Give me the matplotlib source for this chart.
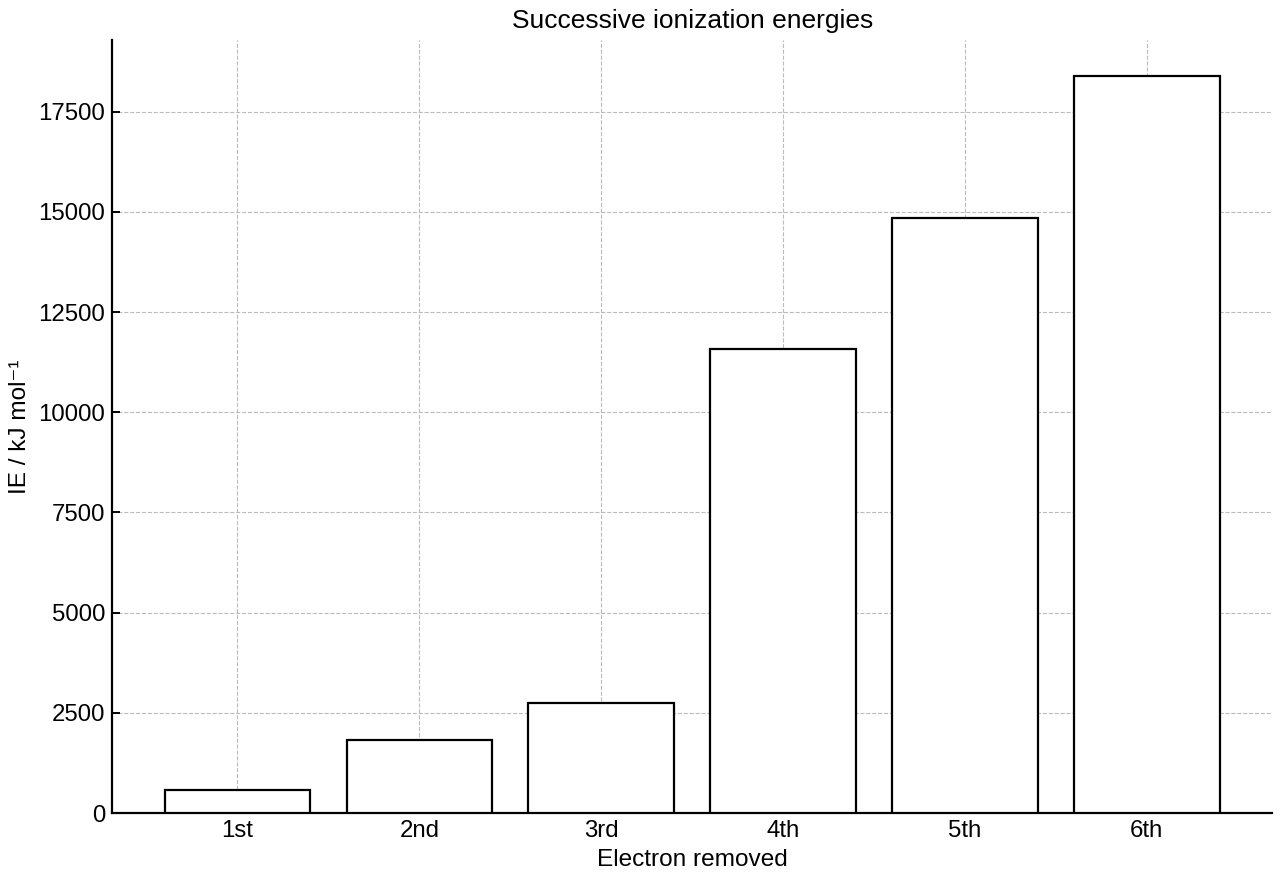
import matplotlib
matplotlib.use("Agg")
import matplotlib.pyplot as plt

plt.rcParams['font.family'] = ['Liberation Sans', 'DejaVu Sans']

categories = ["1st", "2nd", "3rd", "4th", "5th", "6th"]
energies = [578, 1817, 2745, 11577, 14842, 18379]
yticks = [0, 2500, 5000, 7500, 10000, 12500, 15000, 17500]

fig, ax = plt.subplots(figsize=(12.8, 8.8), dpi=100)
fig.subplots_adjust(left=0.0875, right=0.994, top=0.955, bottom=0.076)

x = list(range(len(categories)))
ax.bar(x, energies, width=0.8, facecolor="white", edgecolor="black", linewidth=1.6, zorder=3)
ax.set_xticks(x)
ax.set_xticklabels(categories)
ax.set_yticks(yticks)

ax.grid(True, linestyle="--", color="#bbbbbb", linewidth=0.8, zorder=0)
ax.set_axisbelow(True)
for s in ["top", "right"]:
    ax.spines[s].set_visible(False)
for s in ["left", "bottom"]:
    ax.spines[s].set_linewidth(1.6)
ax.tick_params(direction="in", length=6, width=1.4, labelsize=17.3, pad=5)

ax.set_xlabel("Electron removed", fontsize=17.6, labelpad=5)
ax.set_ylabel("IE / kJ mol\u207b\u00b9", fontsize=17.6, labelpad=5)
ax.set_title("Successive ionization energies", fontsize=19, pad=8)

fig.savefig("out.png", dpi=100)
